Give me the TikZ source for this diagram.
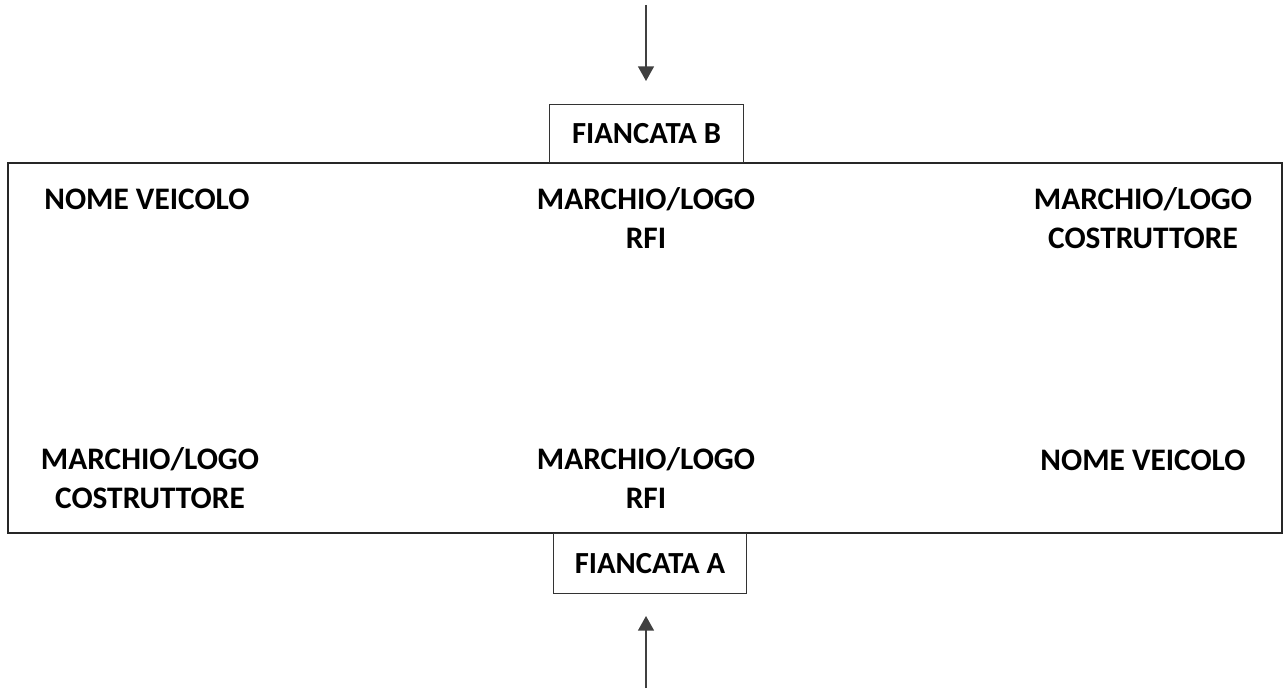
\documentclass[tikz,border=0pt]{standalone}
\usepackage{fontspec}
\setmainfont{Carlito}
\usetikzlibrary{arrows.meta}

\tikzset{
 etichetta/.style={font=\bfseries\fontsize{23.5}{29}\selectfont, align=center, inner sep=0, anchor=base},
 fiancata/.style={draw=black!80, line width=0.8pt, font=\bfseries\fontsize{23}{26}\selectfont, inner sep=0, anchor=center},
 freccia/.style={draw=black!75, line width=1.1pt, -{Triangle[width=12pt,length=11pt]}}
}

\begin{document}
\begin{tikzpicture}[x=0.75pt, y=-0.75pt]
\useasboundingbox (0,0) rectangle (1284,692);
% vehicle body
\node[draw=black!85, line width=1.5pt, minimum width=956pt, minimum height=277pt, inner sep=0] (cassa) at (645,348) {};
% sides
\node[fiancata, minimum width=145pt, minimum height=44pt] (fB) at (646.5,133.5) {FIANCATA B};
\node[fiancata, minimum width=145pt, minimum height=45pt] (fA) at (650,563.5) {FIANCATA A};
% arrows
\coordinate (inB) at (646,5);
\coordinate (tipB) at (646,81);
\coordinate (inA) at (646,688);
\coordinate (tipA) at (646,616);
\draw[freccia] (inB) -- (tipB);
\draw[freccia] (inA) -- (tipA);
% labels (base = last line)
\node[etichetta] (nomeB) at (147,209) {NOME VEICOLO};
\node[etichetta] (rfiB) at (646,248) {MARCHIO/LOGO\\RFI};
\node[etichetta] (costB) at (1143,248) {MARCHIO/LOGO\\COSTRUTTORE};
\node[etichetta] (costA) at (150,508) {MARCHIO/LOGO\\COSTRUTTORE};
\node[etichetta] (rfiA) at (646,508) {MARCHIO/LOGO\\RFI};
\node[etichetta] (nomeA) at (1143,470) {NOME VEICOLO};
\end{tikzpicture}
\end{document}
